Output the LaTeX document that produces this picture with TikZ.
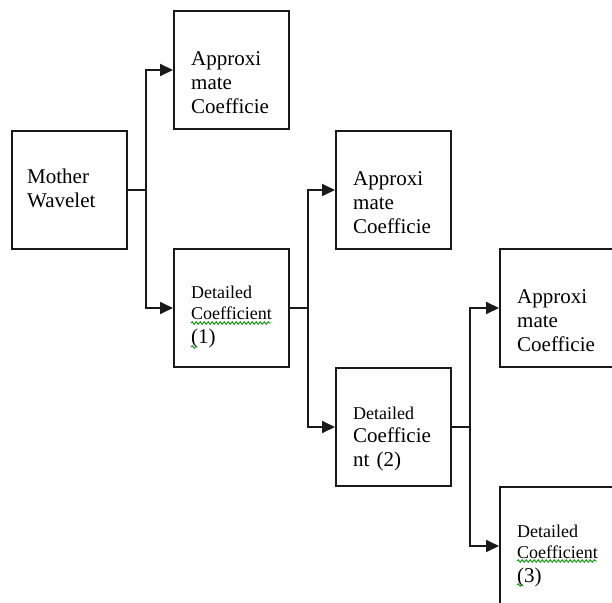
\documentclass[tikz,border=0pt]{standalone}
\usepackage{fontspec}
\setmainfont{Liberation Serif}
\usetikzlibrary{arrows.meta,decorations.pathmorphing}
\begin{document}
\begin{tikzpicture}[x=1pt,y=-1pt,
  box/.style={draw=black!90,line width=2pt,minimum width=115pt,minimum height=118pt,inner sep=0pt,anchor=north west},
  lbl/.style={anchor=base west,inner sep=0pt,text width=100pt,align=left,font=\fontsize{21}{24}\selectfont},
  conn/.style={draw=black!90,line width=1.8pt},
  arr/.style={conn,-{Triangle[length=13pt,width=12pt]}},
  squig/.style={draw=green!60!black,line width=0.9pt,decorate,decoration={snake,amplitude=1.3pt,segment length=4pt}}]
\clip (0,0) rectangle (612,602);
% boxes
\node[box] (mw) at (11,130) {};
\node[box] (a1) at (173,10) {};
\node[box] (d1) at (173,248) {};
\node[box] (a2) at (335,130) {};
\node[box] (d2) at (335,367) {};
\node[box] (a3) at (499,248) {};
\node[box] (d3) at (499,486) {};
% labels
\node[lbl] (mwt) at (27,183) {Mother\par Wavelet};
\node[lbl] (a1t) at (191,65) {Approxi\par mate\par Coefficie};
\node[lbl] (a2t) at (353,185) {Approxi\par mate\par Coefficie};
\node[lbl] (a3t) at (517,303) {Approxi\par mate\par Coefficie};
\node[lbl] (d1t) at (191,298) {\fontsize{18}{21}\selectfont Detailed\par Coefficient\par\fontsize{21}{24}\selectfont (1)};
\node[lbl] (d2t) at (353,419) {\fontsize{18}{21}\selectfont Detailed\par\fontsize{21}{23}\selectfont Coefficie\par\fontsize{21}{25}\selectfont nt (2)};
\node[lbl] (d3t) at (517,537) {\fontsize{18}{21}\selectfont Detailed\par Coefficient\par\fontsize{21}{24}\selectfont (3)};
% spell-check squiggles
\path[squig] (191,323) -- (271,323);
\path[squig] (191,347) -- (197,347);
\path[squig] (517,561) -- (597,561);
\path[squig] (517,585) -- (523,585);
% connectors
\draw[conn] (mw.east) -- ++(18,0) coordinate (j1);
\draw[arr] (j1) |- (a1.west);
\draw[arr] (j1) |- (d1.west);
\draw[conn] (d1.east) -- ++(18,0) coordinate (j2);
\draw[arr] (j2) |- (a2.west);
\draw[arr] (j2) |- (d2.west);
\draw[conn] (d2.east) -- ++(18,0) coordinate (j3);
\draw[arr] (j3) |- (a3.west);
\draw[arr] (j3) |- (d3.west);
\end{tikzpicture}
\end{document}
